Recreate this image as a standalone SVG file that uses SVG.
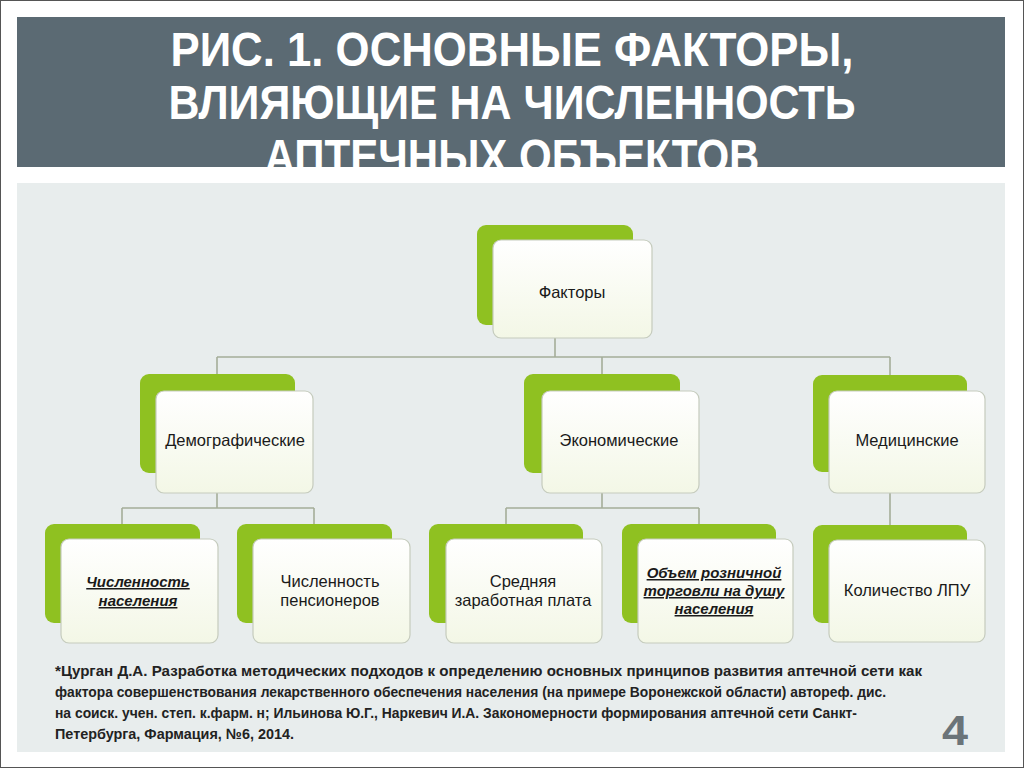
<svg xmlns="http://www.w3.org/2000/svg" width="1024" height="768" viewBox="0 0 1024 768">
<defs>
<style>
.g{fill:#8fc121}
.w{fill:url(#wg);stroke:#c5cbbd;stroke-width:1.2}
.lbl{font-family:"Liberation Sans",Arial,sans-serif;font-size:16.5px;fill:#1a1a1a;text-anchor:middle}
.it{font-style:italic;font-weight:bold;text-decoration:underline;font-size:15px}
.ttl{font-family:"Liberation Sans Narrow","Liberation Sans",Arial,sans-serif;font-weight:bold;font-size:49px;fill:#fff;text-anchor:middle}
.fn{font-family:"Liberation Sans Narrow","Liberation Sans",Arial,sans-serif;font-weight:bold;font-size:15px;fill:#222}
.con line{stroke:#a4ad98;stroke-width:1.6}
</style>
<linearGradient id="wg" x1="0" y1="0" x2="0" y2="1">
<stop offset="0" stop-color="#ffffff"/>
<stop offset="1" stop-color="#f3f7e6"/>
</linearGradient>
<clipPath id="hc"><rect x="17" y="17" width="988" height="150"/></clipPath>
</defs>
<rect x="0" y="0" width="1024" height="768" fill="#fff"/>
<rect x="0.5" y="0.5" width="1023" height="767" fill="none" stroke="#555" stroke-width="1"/>
<rect x="17" y="17" width="988" height="150" fill="#5b6a73"/>
<g clip-path="url(#hc)">
<text class="ttl" x="512" y="66" textLength="683" lengthAdjust="spacingAndGlyphs">РИС. 1. ОСНОВНЫЕ ФАКТОРЫ,</text>
<text class="ttl" x="512" y="119" textLength="687" lengthAdjust="spacingAndGlyphs">ВЛИЯЮЩИЕ НА ЧИСЛЕННОСТЬ</text>
<text class="ttl" x="512" y="173" textLength="495" lengthAdjust="spacingAndGlyphs">АПТЕЧНЫХ ОБЪЕКТОВ</text>
</g>
<rect x="17" y="183" width="988" height="569" fill="#e8eded"/>
<g id="connectors" class="con">
<line x1="555" y1="338" x2="555" y2="357"/>
<line x1="217" y1="357" x2="890" y2="357"/>
<line x1="217" y1="357" x2="217" y2="375"/>
<line x1="602" y1="357" x2="602" y2="375"/>
<line x1="890" y1="357" x2="890" y2="375"/>
<line x1="217" y1="493" x2="217" y2="508"/>
<line x1="122" y1="508" x2="314" y2="508"/>
<line x1="122" y1="508" x2="122" y2="524"/>
<line x1="314" y1="508" x2="314" y2="524"/>
<line x1="602" y1="493" x2="602" y2="508"/>
<line x1="506" y1="508" x2="699" y2="508"/>
<line x1="506" y1="508" x2="506" y2="524"/>
<line x1="699" y1="508" x2="699" y2="524"/>
<line x1="890" y1="493" x2="890" y2="525"/>
</g>
<g id="n-factors">
<rect class="g" x="477" y="225" width="156" height="100" rx="9"/>
<rect class="w" x="493" y="240" width="159" height="98" rx="8"/>
<text class="lbl" x="572" y="298">Факторы</text>
</g>
<g id="n-demo">
<rect class="g" x="140" y="374" width="155" height="99" rx="9"/>
<rect class="w" x="156" y="391" width="157" height="102" rx="8"/>
<text class="lbl" x="235" y="446">Демографические</text>
</g>
<g id="n-econ">
<rect class="g" x="524" y="374" width="156" height="99" rx="9"/>
<rect class="w" x="542" y="391" width="157" height="102" rx="8"/>
<text class="lbl" x="619" y="446">Экономические</text>
</g>
<g id="n-med">
<rect class="g" x="813" y="375" width="154" height="97" rx="9"/>
<rect class="w" x="829" y="391" width="156" height="102" rx="8"/>
<text class="lbl" x="907" y="446">Медицинские</text>
</g>
<g id="n-pop">
<rect class="g" x="45" y="524" width="155" height="99" rx="9"/>
<rect class="w" x="61" y="539" width="157" height="104" rx="8"/>
<text class="lbl it" x="138" y="587">Численность</text>
<text class="lbl it" x="138" y="606">населения</text>
</g>
<g id="n-pens">
<rect class="g" x="237" y="524" width="155" height="99" rx="9"/>
<rect class="w" x="253" y="539" width="157" height="104" rx="8"/>
<text class="lbl" x="330" y="587">Численность</text>
<text class="lbl" x="330" y="606">пенсионеров</text>
</g>
<g id="n-wage">
<rect class="g" x="429" y="524" width="154" height="99" rx="9"/>
<rect class="w" x="446" y="539" width="156" height="104" rx="8"/>
<text class="lbl" x="523" y="587">Средняя</text>
<text class="lbl" x="523" y="606">заработная плата</text>
</g>
<g id="n-retail">
<rect class="g" x="622" y="524" width="154" height="99" rx="9"/>
<rect class="w" x="638" y="539" width="155" height="104" rx="8"/>
<text class="lbl it" x="714" y="578">Объем розничной</text>
<text class="lbl it" x="714" y="596">торговли на душу</text>
<text class="lbl it" x="714" y="614">населения</text>
</g>
<g id="n-lpu">
<rect class="g" x="813" y="525" width="154" height="98" rx="9"/>
<rect class="w" x="829" y="540" width="156" height="102" rx="8"/>
<text class="lbl" x="907" y="596">Количество ЛПУ</text>
</g>
<g id="footnote">
<text class="fn" x="55" y="676" textLength="867" lengthAdjust="spacingAndGlyphs">*Цурган Д.А. Разработка методических подходов к определению основных принципов развития аптечной сети как</text>
<text class="fn" x="55" y="697" textLength="831" lengthAdjust="spacingAndGlyphs">фактора совершенствования лекарственного обеспечения населения (на примере Воронежской области) автореф. дис.</text>
<text class="fn" x="55" y="718" textLength="802" lengthAdjust="spacingAndGlyphs">на соиск. учен. степ. к.фарм. н; Ильинова Ю.Г., Наркевич И.А. Закономерности формирования аптечной сети Санкт-</text>
<text class="fn" x="55" y="739" textLength="239" lengthAdjust="spacingAndGlyphs">Петербурга, Фармация, №6, 2014.</text>
</g>
<text x="955" y="745" font-family="Liberation Sans Narrow,Liberation Sans,Arial,sans-serif" font-size="42" font-weight="bold" fill="#6b7479" text-anchor="middle" textLength="26" lengthAdjust="spacingAndGlyphs">4</text>
</svg>
